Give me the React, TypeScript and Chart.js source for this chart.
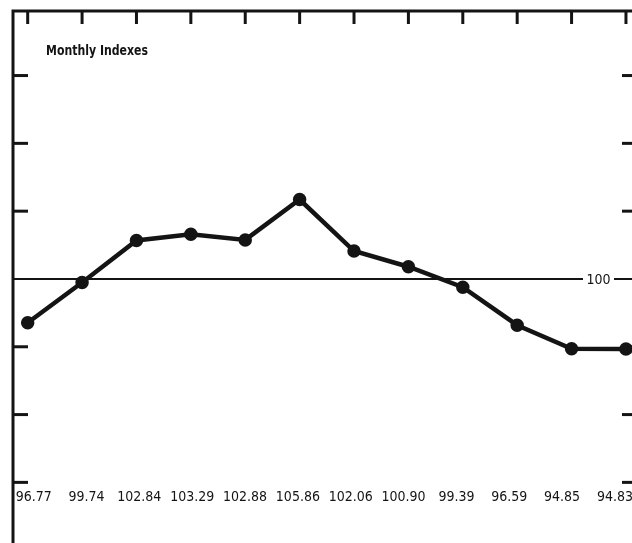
import React, { useEffect, useRef } from "react";
import { Chart, registerables } from "chart.js";

Chart.register(...registerables);

const months = ["1", "2", "3", "4", "5", "6", "7", "8", "9", "10", "11", "12"];
const indexValues = [96.77, 99.74, 102.84, 103.29, 102.88, 105.86, 102.06, 100.9, 99.39, 96.59, 94.85, 94.83];
const valueLabels = ["96.77", "99.74", "102.84", "103.29", "102.88", "105.86", "102.06", "100.90", "99.39", "96.59", "94.85", "94.83"];
const yTickValues = [85, 90, 95, 105, 110, 115];
const baseValue = 100;
const chartTitle = "Monthly Indexes";

const INK = "#141414";
const FONT = "'DejaVu Sans Condensed', 'DejaVu Sans', sans-serif";

const framePlugin = {
  id: "framePlugin",
  beforeDatasetsDraw(chart: any) {
    const { ctx, chartArea } = chart;
    const xs = chart.scales.x;
    const ys = chart.scales.y;
    ctx.save();
    ctx.strokeStyle = INK;
    ctx.lineCap = "butt";
    ctx.lineWidth = 3;
    ctx.beginPath();
    ctx.moveTo(chartArea.left, chart.height);
    ctx.lineTo(chartArea.left, chartArea.top);
    ctx.lineTo(chart.width, chartArea.top);
    ctx.stroke();
    months.forEach((_, i) => {
      const x = xs.getPixelForValue(i);
      ctx.beginPath();
      ctx.moveTo(x, chartArea.top);
      ctx.lineTo(x, chartArea.top + 13);
      ctx.stroke();
    });
    yTickValues.forEach((v) => {
      const y = ys.getPixelForValue(v);
      ctx.beginPath();
      ctx.moveTo(chartArea.left, y);
      ctx.lineTo(chartArea.left + 15, y);
      ctx.stroke();
      ctx.beginPath();
      ctx.moveTo(chart.width - 10, y);
      ctx.lineTo(chart.width, y);
      ctx.stroke();
    });
    const yb = ys.getPixelForValue(baseValue);
    ctx.lineWidth = 2;
    ctx.beginPath();
    ctx.moveTo(chartArea.left, yb);
    ctx.lineTo(chart.width - 49, yb);
    ctx.moveTo(chart.width - 18, yb);
    ctx.lineTo(chart.width, yb);
    ctx.stroke();
    ctx.fillStyle = INK;
    ctx.font = `14px ${FONT}`;
    ctx.textAlign = "center";
    ctx.textBaseline = "middle";
    ctx.fillText(String(baseValue), chart.width - 33.5, yb + 1);
    ctx.restore();
  },
  afterDatasetsDraw(chart: any) {
    const { ctx } = chart;
    const xs = chart.scales.x;
    ctx.save();
    ctx.fillStyle = INK;
    ctx.font = `bold 14px ${FONT}`;
    ctx.textAlign = "left";
    ctx.textBaseline = "middle";
    const w = ctx.measureText(chartTitle).width;
    const sx = Math.min(1, 102 / w);
    ctx.save();
    ctx.translate(46, 51);
    ctx.scale(sx, 1);
    ctx.fillText(chartTitle, 0, 0);
    ctx.restore();
    ctx.font = `14px ${FONT}`;
    ctx.textAlign = "center";
    valueLabels.forEach((t, i) => {
      const x = xs.getPixelForValue(0.11 + 0.9716 * i);
      ctx.fillText(t, x, 497);
    });
    ctx.restore();
  },
};

export default function App() {
  const ref = useRef<HTMLCanvasElement | null>(null);
  useEffect(() => {
    document.documentElement.style.overflow = "hidden";
    document.body.style.margin = "0";
    document.body.style.overflow = "hidden";
    if (!ref.current) return;
    const chart = new Chart(ref.current, {
      type: "line",
      data: {
        datasets: [
          {
            data: indexValues.map((v, i) => ({ x: i, y: v })),
            borderColor: INK,
            backgroundColor: INK,
            borderWidth: 4.5,
            pointRadius: 4.5,
            pointBackgroundColor: INK,
            pointBorderColor: INK,
            tension: 0,
            clip: false as any,
          },
        ],
      },
      options: {
        animation: false,
        responsive: false,
        maintainAspectRatio: false,
        devicePixelRatio: 1,
        layout: { autoPadding: false, padding: { left: 13, top: 11, right: 0, bottom: 0 } },
        plugins: { legend: { display: false }, tooltip: { enabled: false }, title: { display: false } },
        scales: {
          x: { type: "linear", display: false, bounds: "data", min: -0.27, max: 11.111 },
          y: { type: "linear", display: false, bounds: "data", min: 80.53, max: 119.76 },
        },
      },
      plugins: [framePlugin],
    });
    return () => chart.destroy();
  }, []);
  return (
    <div style={{ position: "fixed", left: 0, top: 0, width: 632, height: 543, overflow: "hidden", background: "#fff" }}>
      <canvas ref={ref} width={632} height={543} style={{ display: "block", width: 632, height: 543 }} />
    </div>
  );
}
